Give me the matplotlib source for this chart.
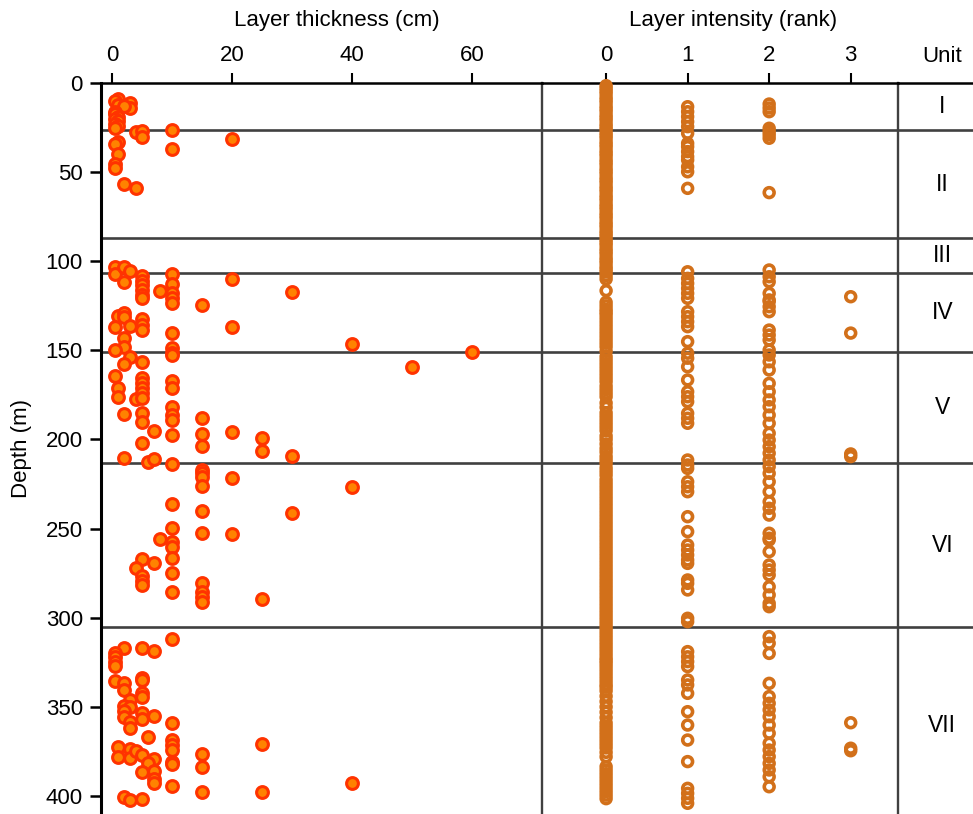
"""Event-layer thickness and intensity against depth, split into stratigraphic units."""
import matplotlib.pyplot as plt

plt.rcParams["font.family"] = ["Liberation Sans", "DejaVu Sans"]
plt.rcParams["font.size"] = 16

# unit boundaries (m) and unit names
unit_tops = [0, 26.4, 87.1, 106.8, 150.9, 213.2, 305.4]
unit_bottom = 415
unit_names = ["I", "II", "III", "IV", "V", "VI", "VII"]

# layer thickness (cm) and depth (m)
thick_depth = [
    9.1, 10.2, 11.4, 12.6, 14.2, 13.1, 16.1, 17.4, 18.8, 20.1, 21.5, 23.0, 24.2, 25.4,
    27.7, 26.8, 30.1, 26.4, 31.6, 37.0, 33.3, 34.2, 39.8, 45.6, 47.5, 56.7, 59.1,
    103.0, 107.2, 103.4, 105.3, 111.8, 108.1, 110.9, 113.3, 116.1, 118.9, 120.8,
    116.5, 107.2, 112.8, 118.0, 120.8, 123.6, 124.5, 110.1, 117.1,
    130.7, 129.2, 131.1, 137.1, 136.2, 132.4, 135.6, 138.4, 140.1, 137.1,
    142.9, 148.3, 149.8, 153.5, 148.9, 151.3, 152.6, 157.6, 156.7, 146.4, 159.3, 150.8,
    164.2, 171.3, 175.9, 177.5, 165.7, 168.5, 171.3, 174.1, 176.9, 167.0, 171.3,
    181.6, 186.3, 189.1, 185.7, 185.0, 190.0, 188.1, 195.2, 197.5, 197.0, 203.6,
    196.0, 199.3, 206.2, 209.3, 202.1, 210.2, 212.8, 210.9, 213.7,
    217.1, 219.0, 220.9, 226.1, 221.4, 226.6,
    236.2, 240.1, 241.1, 249.8, 252.3, 253.0, 256.0, 257.4, 260.1, 266.3, 267.2,
    271.9, 269.5, 276.6, 279.2, 281.6, 275.1, 285.4, 280.3, 285.4, 288.2, 291.0, 289.5,
    312.1, 316.8, 316.8, 318.5, 320.0, 322.2, 324.7, 327.1, 335.5, 336.4, 340.5,
    333.6, 334.9, 342.0, 344.3, 346.1, 349.5, 350.2, 352.1, 355.9, 358.3, 362.0,
    353.3, 357.0, 355.1, 358.9, 366.7, 368.6, 371.4, 374.2, 371.0, 372.3, 378.3,
    373.8, 378.9, 374.8, 377.0, 379.4, 381.3, 386.3, 385.8, 390.6, 392.9, 380.7,
    382.0, 376.4, 383.5, 394.2, 397.9, 397.6, 400.4, 402.2, 401.7, 392.7,
]
thick_cm = [
    1, 0.5, 3, 1, 3, 2, 0.5, 0.5, 1, 0.5, 1, 0.5, 1, 0.5,
    4, 5, 5, 10, 20, 10, 1, 0.5, 1, 0.5, 0.5, 2, 4,
    0.5, 0.5, 2, 3, 2, 5, 5, 5, 5, 5, 5,
    8, 10, 10, 10, 10, 10, 15, 20, 30,
    1, 2, 2, 0.5, 3, 5, 5, 5, 10, 20,
    2, 2, 0.5, 3, 10, 10, 10, 2, 5, 40, 50, 60,
    0.5, 1, 1, 4, 5, 5, 5, 5, 5, 10, 10,
    10, 10, 10, 2, 5, 5, 15, 7, 10, 15, 15,
    20, 25, 25, 30, 5, 2, 6, 7, 10,
    15, 15, 15, 15, 20, 40,
    10, 15, 30, 10, 15, 20, 8, 10, 10, 10, 5,
    4, 7, 5, 5, 5, 10, 10, 15, 15, 15, 15, 25,
    10, 2, 5, 7, 0.5, 0.5, 0.5, 0.5, 0.5, 2, 2,
    5, 5, 5, 5, 3, 2, 3, 2, 2, 3, 3,
    5, 5, 7, 10, 6, 10, 10, 10, 25, 1, 1,
    3, 3, 4, 5, 7, 6, 5, 7, 7, 7, 10,
    10, 15, 15, 10, 15, 25, 2, 3, 5, 40,
]

# layer intensity rank and depth (m)
rank0_depth = [
    1.5, 3, 4.5, 6, 8, 9.5, 11, 13, 14.5, 16, 18, 19.5, 21, 23, 24.5, 26, 28, 29.5,
    31, 33, 34.5, 36, 38, 39.5, 41, 43, 44.5, 46, 48, 49.5, 51, 53, 54.5, 56, 58,
    59.5, 61, 63, 64.5, 66, 68, 69.5, 71, 73, 74.5, 76, 78, 79.5, 81, 83, 84.5, 86,
    88, 89.5, 91, 93, 94.5, 96, 98, 99.5, 101, 103, 104.5, 106, 108, 110,
    116.5,
    123, 125, 127, 128.5, 130, 132, 134, 136, 138, 140, 142, 144, 146, 148, 150.5,
    153.5, 155.5, 157.5, 159.5, 161.5, 163.5, 165.5, 167.5, 170, 172, 174, 176,
    179.5, 182, 185,
    187, 189, 191, 193, 195, 198,
    200, 202.5, 205, 207, 209.5,
    211.5, 213.5, 216, 218, 220,
    222.5, 224.5, 226.5, 228.5, 230.5, 232.5, 234.5, 236.5, 238.5, 240.5, 242.5,
    244.5, 246.5, 248.5, 250.5, 252.5, 254.5, 256.5, 258.5, 260.5, 262.5, 264.5,
    266.5, 268.5, 270.5, 272.5, 274.5, 276.5, 278.5, 280.5, 282.5, 284.5, 286.5,
    288.5, 290.5, 292.5, 294.5, 296.5, 298.5, 300.5, 302.5, 304.5, 306.5, 308.5,
    310.5, 312.5, 314.5, 316.5, 318.5, 320.5, 322.5, 324,
    325.6,
    327.5, 329.5, 331.5, 333.5, 335.5, 337.5, 339,
    341, 344, 347, 350, 353, 356,
    359, 361, 363, 365, 367, 369, 371, 373, 375.5,
    378,
    383.5, 385.5, 387.5, 389.5, 391.5, 393.5, 395.5, 397.5, 399.5, 401.5,
]
rank1_depth = [
    13.3, 16.1, 18.9, 21.7, 24.5, 28.2, 33.8, 35.7, 38.5, 41.3, 43.2, 47.0, 49.8, 59.1,
    105.9, 109.6, 112.4, 115.2, 118.0, 120.8, 128.3, 131.1, 133.9, 136.7, 145.1,
    151.6, 154.4, 159.2, 166.6, 173.2, 176.0, 178.8, 185.3, 188.1, 190.9,
    211.5, 214.3, 216.2, 223.7, 226.5, 229.3, 243.3, 251.7, 259.2, 262.0, 264.8,
    267.6, 269.5, 278.8, 280.7, 284.4, 300.3, 302.2, 319.0, 321.9, 324.6, 327.4,
    334.9, 337.7, 342.4, 352.7, 360.2, 368.6, 380.7, 395.7, 398.5, 401.3, 404.1,
]
rank2_depth = [
    11.8, 14.0, 16.1, 25.4, 27.2, 29.0, 31.0, 61.5,
    104.9, 108.7, 111.5, 118.0, 121.7, 122.6, 125.5, 128.3, 138.6, 141.4, 144.2,
    149.8, 152.6, 156.4, 161.0, 168.5, 173.2, 177.8, 181.6, 186.3, 190.9, 196.5,
    200.3, 204.0, 207.7, 211.5, 215.2, 219.0, 223.7, 229.3, 234.9, 238.6, 242.4,
    252.6, 255.4, 256.4, 262.9, 270.4, 273.2, 276.0, 282.6, 287.2, 291.9, 293.8,
    310.6, 314.3, 320.0, 336.8, 344.2, 348.0, 351.7, 355.5, 360.2, 364.8, 370.4,
    374.2, 377.9, 381.7, 385.4, 389.2, 394.8,
]
rank3_depth = [119.9, 140.3, 208.1, 209.6, 358.9, 373.2, 374.6]

W, H = 973, 814
fig = plt.figure(figsize=(W / 100, H / 100), dpi=100)
top = 731 / H
ax_t = fig.add_axes([101 / W, 0, 440.7 / W, top])
ax_r = fig.add_axes([541.7 / W, 0, 356.3 / W, top], sharey=ax_t)
ax_u = fig.add_axes([898 / W, 0, 75 / W, top], sharey=ax_t)

edge_grey = "#404040"
for ax in (ax_t, ax_r, ax_u):
    # transparent panels so the divider spines are not half-hidden by the neighbour
    ax.set_facecolor("none")
    for side in ("left", "right", "bottom"):
        ax.spines[side].set_visible(False)
    ax.spines["top"].set_linewidth(1.8)
    ax.spines["top"].set_color("black")
    for d in unit_tops[1:]:
        ax.axhline(d, color=edge_grey, lw=1.9, zorder=1)
ax_t.spines["left"].set_visible(True)
ax_t.spines["left"].set_linewidth(2.2)
ax_t.spines["left"].set_color("black")
for ax in (ax_t, ax_r):
    ax.spines["right"].set_visible(True)
    ax.spines["right"].set_linewidth(1.7)
    ax.spines["right"].set_color(edge_grey)

ax_t.scatter(thick_cm, thick_depth, s=72, facecolor="#FF8200", edgecolor="#FF3300",
             linewidths=2.2, zorder=3, clip_on=False)

rank_x = [0] * len(rank0_depth) + [1] * len(rank1_depth) + [2] * len(rank2_depth) + [3] * len(rank3_depth)
rank_y = rank0_depth + rank1_depth + rank2_depth + rank3_depth
ax_r.scatter(rank_x, rank_y, s=50, facecolor="none", edgecolor="#D2701A",
             linewidths=2.6, zorder=3, clip_on=False)

ax_t.set_ylim(410.1, 0)
ax_t.set_xlim(-1.88, 71.6)
ax_r.set_xlim(-0.79, 3.58)
ax_u.set_xlim(0, 1)

ax_t.xaxis.tick_top()
ax_t.set_xticks([0, 20, 40, 60])
ax_t.set_yticks(range(0, 401, 50))
ax_t.tick_params(axis="x", length=7, width=1.5, pad=5)
ax_t.tick_params(axis="y", length=8, width=1.8, pad=5)
ax_t.set_ylabel("Depth (m)", labelpad=10)

ax_r.xaxis.tick_top()
ax_r.set_xticks([0, 1, 2, 3])
ax_r.tick_params(axis="x", length=7, width=1.5, pad=5)
ax_r.tick_params(axis="y", left=False, labelleft=False)
ax_u.tick_params(left=False, labelleft=False, top=False, labeltop=False,
                 bottom=False, labelbottom=False)

ax_t.set_xlabel("Layer thickness (cm)")
ax_t.xaxis.set_label_position("top")
ax_t.xaxis.set_label_coords(0.5355, 1.078)
ax_r.set_xlabel("Layer intensity (rank)")
ax_r.xaxis.set_label_position("top")
ax_r.xaxis.set_label_coords(0.537, 1.078)

ax_u.text(0.59, 1.036, "Unit", transform=ax_u.transAxes, ha="center", va="center")
bounds = unit_tops + [unit_bottom]
for name, d0, d1 in zip(unit_names, bounds[:-1], bounds[1:]):
    ax_u.text(0.59, (d0 + d1) / 2, name, ha="center", va="center", fontsize=16.5)

fig.savefig("out.png", dpi=100)
